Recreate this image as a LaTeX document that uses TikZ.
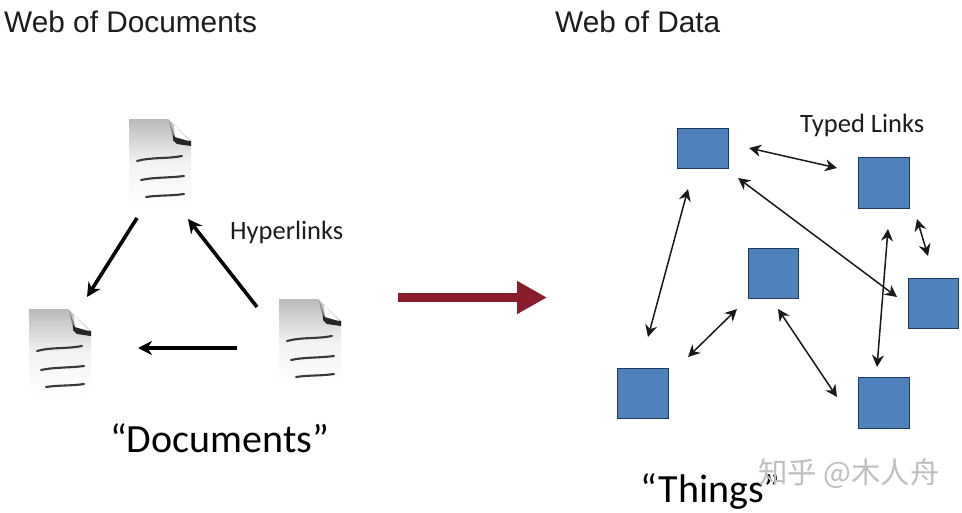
\documentclass[tikz,border=0pt]{standalone}
\usepackage{fontspec}
\setmainfont{Liberation Sans}
\newfontfamily\calfont{Carlito}
\newfontfamily\cjkfont{Noto Sans CJK SC}
\usetikzlibrary{arrows.meta}
\definecolor{sqblue}{HTML}{4F81BD}
\definecolor{sqedge}{HTML}{1F3A5F}
\definecolor{bigred}{HTML}{8A1C2C}
\definecolor{inktext}{HTML}{1C1C1C}
\tikzset{
  x=1pt,y=-1pt,
  title/.style={anchor=base west,inner sep=0pt,font=\fontsize{29.8}{30}\selectfont,text=inktext},
  small/.style={anchor=base west,inner sep=0pt,font=\calfont\fontsize{26.5}{27}\selectfont,text=inktext},
  big/.style={anchor=base west,inner sep=0pt,font=\calfont\fontsize{40}{40}\selectfont,text=black},
  wmark/.style={anchor=base west,inner sep=0pt,font=\cjkfont\fontsize{29.4}{30}\selectfont,text=black!25},
  sq/.style={draw=sqedge,line width=1pt,fill=sqblue,inner sep=0pt,rectangle},
  link/.style={{Stealth[length=12pt,width=12pt]}-{Stealth[length=12pt,width=12pt]},line width=1.5pt,draw=black!90},
  hyper/.style={-{Stealth[length=14pt,width=14pt]},line width=3.6pt,draw=black},
  docline/.style={line width=2.1pt,draw=black!78,line cap=round},
  doc/.pic={
    \shade[top color=black!27,bottom color=white,middle color=black!5,draw=none]
      (0,0) -- (39,0) -- (62,22) -- (62,84) -- (60,86) -- (2,86) -- (0,84) -- cycle;
    \fill[black!50] (40,1) -- (44,19) -- (62,23) -- (46,17) -- cycle;
    \fill[black!85] (44,16) -- (47,18) -- (62,22) -- (62,27) -- (48,25) -- (44,21) -- cycle;
    \fill[white] (45,6) -- (60,22) -- (46,18) -- cycle;
    \draw[docline] (8,42) .. controls (22,38) and (38,40) .. (53,37);
    \draw[docline] (12,61) .. controls (26,58) and (40,59) .. (55,57);
    \draw[docline] (17,78) .. controls (30,76) and (42,77) .. (55,75);
  }
}
\begin{document}
\begin{tikzpicture}
\useasboundingbox (0,0) rectangle (962,512);
\fill[white] (0,0) rectangle (962,512);
\node[title] (t1) at (4,32) {Web of Documents};
\node[title] (t2) at (555,32) {Web of Data};
\pic (d1) at (129,119) {doc};
\pic (d2) at (29,309) {doc};
\pic (d3) at (279,299) {doc};
\node[small] (hl) at (230,239) {Hyperlinks};
\node[big] (docs) at (110,452) {“Documents”};
\coordinate (h1a) at (137,218); \coordinate (h1b) at (87,297);
\coordinate (h2a) at (257,307); \coordinate (h2b) at (188,219);
\coordinate (h3a) at (237,348); \coordinate (h3b) at (138,348);
\draw[hyper] (h1a) -- (h1b);
\draw[hyper] (h2a) -- (h2b);
\draw[hyper] (h3a) -- (h3b);
\coordinate (ra) at (398,297.5); \coordinate (rb) at (547,297.5);
\draw[bigred,line width=9pt,-{Triangle[length=30pt,width=31pt]}] (ra) -- (rb);
\draw[sq] (677,128) rectangle (728,168) node[midway,inner sep=0pt] (s1) {};
\draw[sq] (858,157) rectangle (909,208) node[midway,inner sep=0pt] (s2) {};
\draw[sq] (748,248) rectangle (798,298) node[midway,inner sep=0pt] (s3) {};
\draw[sq] (908,278) rectangle (958,328) node[midway,inner sep=0pt] (s4) {};
\draw[sq] (617,368) rectangle (668,418) node[midway,inner sep=0pt] (s5) {};
\draw[sq] (858,377) rectangle (909,428) node[midway,inner sep=0pt] (s6) {};
\node[small] (tl) at (800,132) {Typed Links};
\coordinate (a1) at (749,148); \coordinate (b1) at (837,168);
\coordinate (a2) at (738,178); \coordinate (b2) at (897,297);
\coordinate (a3) at (688,189); \coordinate (b3) at (648,337);
\coordinate (a4) at (917,219); \coordinate (b4) at (928,256);
\coordinate (a5) at (888,229); \coordinate (b5) at (877,367);
\coordinate (a6) at (737,309); \coordinate (b6) at (688,357);
\coordinate (a7) at (778,309); \coordinate (b7) at (837,397);
\foreach \n in {1,...,7} {\draw[link] (a\n) -- (b\n);}
\node[big] (th) at (640,502) {“Things”};
\node[wmark] (wm) at (758,483) {知乎 @木人舟};
\end{tikzpicture}
\end{document}
